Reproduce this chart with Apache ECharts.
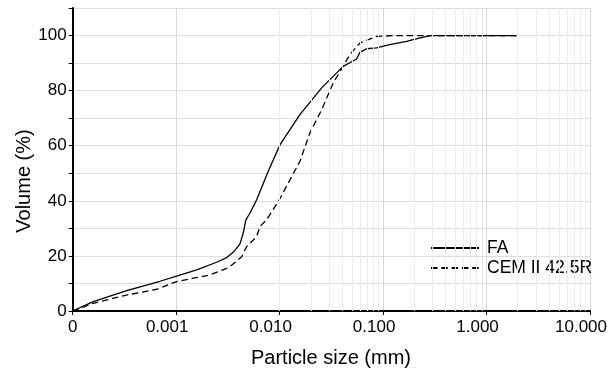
<!DOCTYPE html>
<html><head><meta charset="utf-8">
<script src="https://cdn.jsdelivr.net/npm/echarts@6/dist/echarts.min.js"></script>
<style>html,body{margin:0;padding:0;background:#fff}#c{width:613px;height:381px}</style>
</head><body><div id="c"></div>
<script>
// Data
const faSize = [0.0001, 0.000158, 0.000333, 0.000697, 0.00101, 0.00158, 0.00246, 0.00308, 0.00356, 0.00413, 0.00445, 0.00472, 0.00516, 0.0060, 0.00776, 0.0101, 0.0157, 0.0255, 0.0411, 0.0555, 0.0597, 0.0693, 0.0865, 0.116, 0.169, 0.195, 0.283, 1.95];
const faVol = [0, 3.4, 7.4, 10.8, 12.7, 14.9, 17.7, 19.4, 21.3, 24.3, 28.3, 33.1, 35.5, 40.4, 50.7, 60.4, 71.3, 81, 88.8, 91.5, 93.9, 95.2, 95.5, 96.7, 97.9, 98.5, 100, 100];
const cemSize = [0.0001, 0.000158, 0.000333, 0.000649, 0.00101, 0.00146, 0.00212, 0.00308, 0.00331, 0.0043, 0.0048, 0.0060, 0.00645, 0.00748, 0.0097, 0.0157, 0.0196, 0.0255, 0.033, 0.0411, 0.0478, 0.0597, 0.0865, 0.135, 1.95];
const cemVol = [0, 2.8, 5.8, 7.9, 10.7, 11.9, 13.1, 15.5, 16.1, 19.7, 23.4, 27, 30.7, 33.1, 39.7, 54.3, 64.6, 73.1, 82.8, 88.8, 93.1, 97.3, 99.7, 100, 100];
const seriesNames = ['FA', 'CEM II 42.5R'];
const xTitle = 'Particle size (mm)';
const yTitle = 'Volume (%)';
const minorMultipliers = [2, 3, 4, 5, 6, 7, 8, 9];
const decades = [0.0001, 0.001, 0.01, 0.1, 1];

const FONT = 'Liberation Sans, Arial, sans-serif';
const minorLines = [];
decades.forEach(d => minorMultipliers.forEach(m => minorLines.push({ xAxis: d * m })));

const chart = echarts.init(document.getElementById('c'));
chart.setOption({
  animation: false,
  backgroundColor: '#fff',
  textStyle: { fontFamily: FONT, color: '#000' },
  grid: { left: 72.7, right: 23, top: 8, bottom: 70, containLabel: false },
  xAxis: {
    type: 'log', logBase: 10, min: 0.0001, max: 10,
    axisLine: { show: true, lineStyle: { color: '#000', width: 2 } },
    axisTick: { show: true, length: 4, lineStyle: { color: '#000', width: 1 } },
    axisLabel: {
      margin: 8, color: '#000', fontSize: 17, fontFamily: FONT,
      formatter: v => v < 0.0002 ? '{z|0}' : '{d|' + v.toFixed(3) + '}',
      rich: {
        z: { fontSize: 17, fontFamily: FONT, color: '#000' },
        d: { fontSize: 17, fontFamily: FONT, color: '#000', padding: [0, 18, 0, 0] }
      }
    },
    splitLine: { show: true, lineStyle: { color: '#d9d9d9', width: 1 } }
  },
  yAxis: {
    type: 'value', min: 0, max: 110, interval: 10,
    axisLine: { show: true, lineStyle: { color: '#000', width: 2 } },
    axisTick: { show: true, length: 4, lineStyle: { color: '#000', width: 1 } },
    axisLabel: {
      margin: 6, color: '#000', fontSize: 17, fontFamily: FONT,
      formatter: v => (v % 20 === 0 && v <= 100) ? String(v) : ''
    },
    splitLine: { show: true, lineStyle: { color: '#dedede', width: 1 } }
  },
  legend: {
    orient: 'vertical', left: 425, top: 234, itemGap: 2,
    itemWidth: 48, itemHeight: 14,
    data: seriesNames,
    itemStyle: { opacity: 0 },
    textStyle: { fontSize: 17.5, fontFamily: FONT, color: '#000', padding: [0, 0, 0, 3] }
  },
  graphic: [
    { type: 'text', x: 331, y: 358, silent: true,
      style: { text: xTitle, fontSize: 20, fontFamily: FONT, fill: '#000', align: 'center', verticalAlign: 'middle' } },
    { type: 'text', x: 24, y: 181, rotation: Math.PI / 2, silent: true,
      style: { text: yTitle, fontSize: 20, fontFamily: FONT, fill: '#000', align: 'center', verticalAlign: 'middle' } }
  ],
  series: [
    {
      name: '_grid', type: 'line', data: [[0.0001, 0]], symbol: 'none', silent: true, z: 1,
      lineStyle: { width: 0, opacity: 0 },
      markLine: {
        silent: true, symbol: ['none', 'none'], label: { show: false },
        lineStyle: { type: 'solid', color: '#ececec', width: 1 },
        data: minorLines, animation: false
      }
    },
    {
      name: seriesNames[0], type: 'line', z: 3, symbol: 'none', smooth: false,
      data: faSize.map((x, i) => [x, faVol[i]]),
      lineStyle: { color: '#000', width: 1.3, type: 'solid' },
      itemStyle: { color: '#000' }
    },
    {
      name: seriesNames[1], type: 'line', z: 3, symbol: 'none', smooth: false,
      data: cemSize.map((x, i) => [x, cemVol[i]]),
      lineStyle: { color: '#000', width: 1.3, type: [6.5, 3.8] },
      itemStyle: { color: '#000' }
    }
  ]
});
</script></body></html>
